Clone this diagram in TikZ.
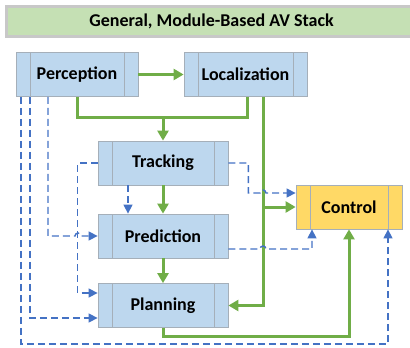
\documentclass[tikz,border=0pt]{standalone}
\usepackage{fontspec}
\setmainfont{Carlito}
\usetikzlibrary{arrows.meta}

\definecolor{boxblue}{RGB}{189,215,238}
\definecolor{boxgray}{RGB}{165,175,185}
\definecolor{ctrlyellow}{RGB}{255,217,102}
\definecolor{titlegreen}{RGB}{197,224,180}
\definecolor{titlegray}{RGB}{200,200,200}
\definecolor{flowgreen}{RGB}{112,173,71}
\definecolor{infoblue}{RGB}{68,114,196}

\tikzset{
    module/.style={draw=boxgray, fill=boxblue, line width=0.8pt, minimum height=44pt,
        font=\fontsize{18}{21}\selectfont\bfseries, inner sep=0pt,
        path picture={
            \draw[boxgray, line width=0.8pt]
                ([xshift=14pt]path picture bounding box.north west) -- ([xshift=14pt]path picture bounding box.south west)
                ([xshift=-14pt]path picture bounding box.north east) -- ([xshift=-14pt]path picture bounding box.south east);
        }},
    flow/.style={draw=flowgreen, line width=3pt, -{Triangle[length=10pt,width=11pt]}},
    flowline/.style={draw=flowgreen, line width=3pt},
    info/.style={draw=infoblue, line width=1.4pt, dash pattern=on 7pt off 4pt, -{Triangle[length=9pt,width=9pt]}}
}

\begin{document}
\begin{tikzpicture}[x=1pt, y=-1pt]
        \useasboundingbox (0,0) rectangle (410,348);

        \node[draw=titlegray, fill=titlegreen, line width=3pt, minimum width=410pt, minimum height=30pt,
              font=\fontsize{18}{21}\selectfont\bfseries] (title) at (211.5,21) {General, Module-Based AV Stack};

        \node[module, minimum width=122pt] (perc) at (77,74.5) {Perception};
        \node[module, minimum width=123pt] (loc) at (245.5,74.5) {Localization};
        \node[module, minimum width=130pt] (track) at (163,163) {Tracking};
        \node[module, minimum width=130pt] (pred) at (163,236) {Prediction};
        \node[module, minimum width=130pt] (plan) at (163,305.5) {Planning};
        \node[module, fill=ctrlyellow, minimum width=106pt] (ctrl) at (349,207) {Control};

        % green flow
        \coordinate (merge) at (163,117);
        \coordinate (lochub) at (263,207);
        \draw[flow] (perc.east) -- (loc.west);
        \draw[flowline] (perc.south) |- (merge);
        \draw[flowline] ([xshift=1.5pt]loc.south) |- (merge);
        \draw[flow] (merge) -- (track.north);
        \draw[flow] (track.south) -- (pred.north);
        \draw[flow] (pred.south) -- (plan.north);
        \draw[flow] ([xshift=17.5pt]loc.south) |- (plan.east);
        \draw[flow] (lochub) -- (ctrl.west);
        \draw[flow] (plan.south) -- ++(0,9) -| (ctrl.south);

        % blue dashed
        \coordinate (hop1) at (263,193);
        \coordinate (hop2) at (263,249);
        \coordinate (hop3) at (78,236);
        \coordinate (bottom) at (200,344);
        \draw[info] (track.west) -- ++(-20,0) |- ([yshift=12.5pt]plan.west);
        \draw[info] ([xshift=-35pt]track.south) -- ([xshift=-35pt]pred.north);
        \draw[info] (track.east) -- ++(20,0) |- ([xshift=-3pt]hop1)
            arc[start angle=180, end angle=0, radius=3pt] -- ([yshift=14pt]ctrl.west);
        \draw[info] ([yshift=-13pt]pred.east) -- ([xshift=-3pt]hop2)
            arc[start angle=180, end angle=0, radius=3pt] -| ([xshift=-37pt]ctrl.south);
        \draw[info] ([xshift=-29pt]perc.south) |- ([xshift=-3pt]hop3)
            arc[start angle=180, end angle=0, radius=3pt] -- (pred.west);
        \draw[info] ([xshift=-47pt]perc.south) |- ([yshift=-12.5pt]plan.west);
        \draw[info] ([xshift=-56pt]perc.south) |- (bottom) -| ([xshift=39pt]ctrl.south);
    \end{tikzpicture}
\end{document}
